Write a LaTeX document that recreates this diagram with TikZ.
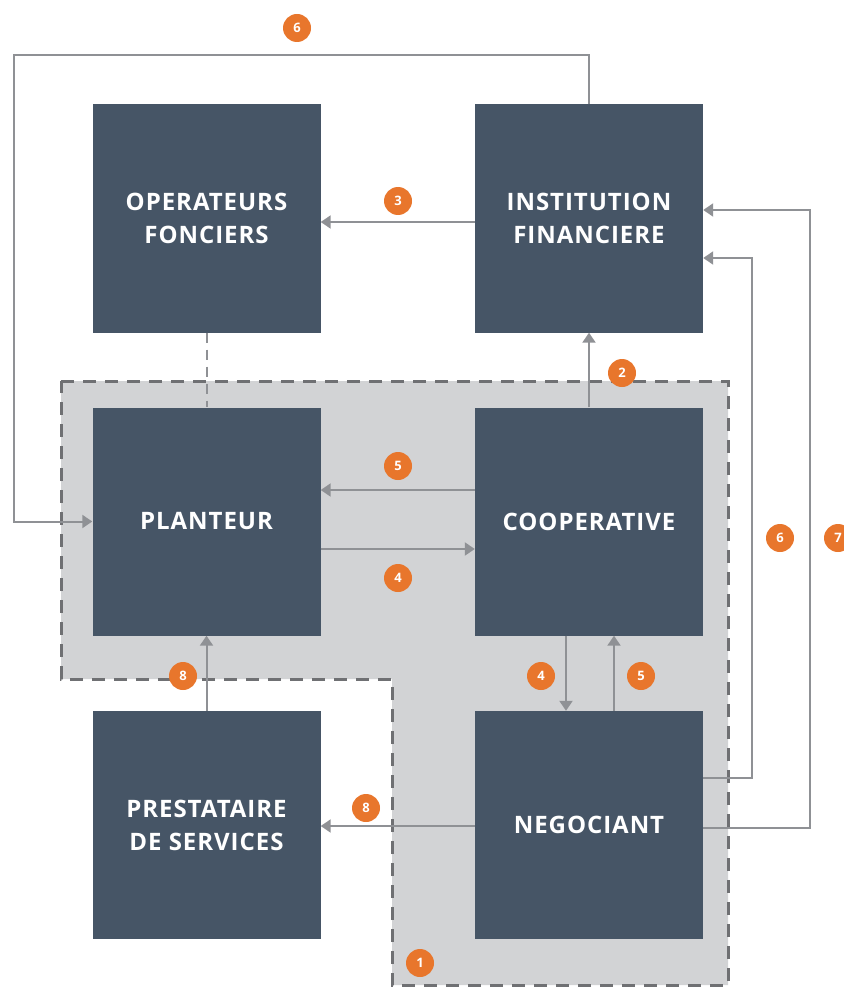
\documentclass[tikz,border=0pt]{standalone}
\usepackage{fontspec}
\setmainfont{Open Sans}
\usetikzlibrary{arrows.meta}
\definecolor{boxc}{HTML}{465566}
\definecolor{regc}{HTML}{D2D3D5}
\definecolor{dashc}{HTML}{6F7073}
\definecolor{arrc}{HTML}{8F9195}
\definecolor{badgec}{HTML}{E8762C}
\begin{document}
\begin{tikzpicture}[x=1pt,y=-1pt,
  blk/.style={fill=boxc,minimum width=228pt,minimum height=228pt,inner sep=0pt,
    text=white,align=center,font=\fontsize{24}{33}\selectfont\bfseries\addfontfeature{LetterSpace=4}},
  arr/.style={draw=arrc,line width=2pt,-{Triangle[length=10pt,width=13pt]}},
  link/.style={draw=arrc,line width=2pt},
  badge/.style={circle,fill=badgec,minimum size=28pt,inner sep=0pt,text=white,
    font=\fontsize{13}{13}\selectfont\bfseries},
  region/.style={fill=regc,draw=dashc,line width=3pt,dash pattern=on 13pt off 9pt}]
\useasboundingbox (0,0) rectangle (843,987);
% region
\path[region] (61,381) -- (728,381) -- (728,985) -- (392,985) -- (392,679) -- (61,679) -- cycle;
% boxes
\node[blk] (OP) at (206.5,218.5) {OPERATEURS\\FONCIERS};
\node[blk] (IF) at (589,218.5) {INSTITUTION\\FINANCIERE};
\node[blk] (PL) at (206.5,521.5) {PLANTEUR};
\node[blk] (CO) at (589,521.5) {COOPERATIVE};
\node[blk] (PR) at (206.5,825) {PRESTATAIRE\\DE SERVICES};
\node[blk] (NE) at (589,825) {NEGOCIANT};
% connectors
\draw[link,dashed,dash pattern=on 10pt off 7pt] (OP.south) -- (PL.north);
\draw[arr] (IF.north) |- (14,55) |- (PL.west);
\draw[arr] (IF.west |- 0,222) -- (OP.east |- 0,222);
\draw[arr] (CO.north) -- (IF.south);
\draw[arr] (CO.west |- 0,490) -- (PL.east |- 0,490);
\draw[arr] (PL.east |- 0,549) -- (CO.west |- 0,549);
\draw[arr] (CO.south -| 566,0) -- (NE.north -| 566,0);
\draw[arr] (NE.north -| 614,0) -- (CO.south -| 614,0);
\draw[arr] (PR.north) -- (PL.south);
\draw[arr] (NE.west |- 0,826) -- (PR.east |- 0,826);
\draw[arr] (NE.east |- 0,778) -| (752,258) -- (IF.east |- 0,258);
\draw[arr] (NE.east |- 0,828) -| (810,210) -- (IF.east |- 0,210);
% badges
\node[badge] (b6a) at (297,28) {6};
\node[badge] (b3) at (398,201) {3};
\node[badge] (b2) at (622,373) {2};
\node[badge] (b5a) at (398,466) {5};
\node[badge] (b4a) at (398,578) {4};
\node[badge] (b4b) at (541,676) {4};
\node[badge] (b5b) at (641,676) {5};
\node[badge] (b8a) at (183,676) {8};
\node[badge] (b8b) at (366,808) {8};
\node[badge] (b1) at (420,963) {1};
\node[badge] (b6b) at (780,538) {6};
\node[badge] (b7) at (838,538) {7};
\end{tikzpicture}
\end{document}
